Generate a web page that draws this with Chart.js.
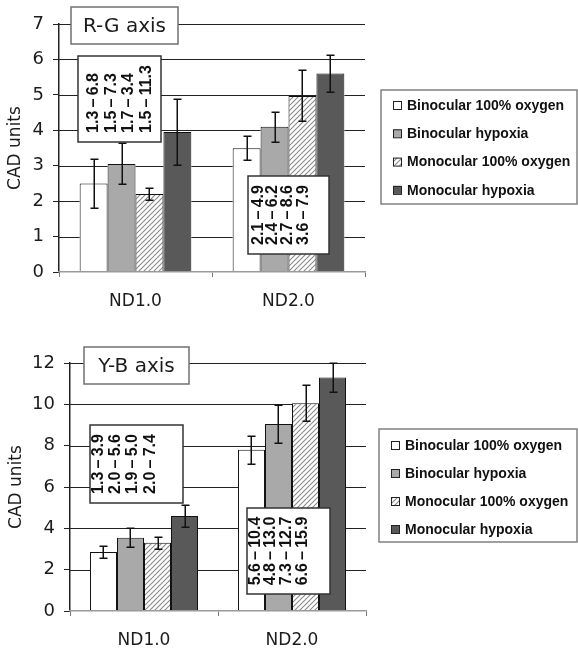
<!DOCTYPE html>
<html>
<head>
<meta charset="utf-8">
<script src="https://cdn.jsdelivr.net/npm/chart.js@4.4.1/dist/chart.umd.min.js"></script>
<style>
  body { margin: 0; background: #fff; }
  canvas { position: absolute; left: 0; }
</style>
</head>
<body>
<canvas id="rgChart" width="578" height="320" style="top:0"></canvas>
<canvas id="ybChart" width="578" height="332" style="top:320px"></canvas>
<script>
const categories = ["ND1.0", "ND2.0"];
const seriesNames = ["Binocular 100% oxygen", "Binocular hypoxia", "Monocular 100% oxygen", "Monocular hypoxia"];

// R-G axis means and error bars (ND1.0, ND2.0)
const rgBinOxy = [2.5, 3.49];
const rgBinHyp = [3.05, 4.1];
const rgMonOxy = [2.2, 4.97];
const rgMonHyp = [3.95, 5.6];
const rgBinOxyErr = [0.68, 0.34];
const rgBinHypErr = [0.58, 0.42];
const rgMonOxyErr = [0.18, 0.72];
const rgMonHypErr = [0.92, 0.52];
const rgTicks = [0, 1, 2, 3, 4, 5, 6, 7];

// Y-B axis
const ybBinOxy = [2.85, 7.8];
const ybBinHyp = [3.55, 9.05];
const ybMonOxy = [3.3, 10.05];
const ybMonHyp = [4.6, 11.3];
const ybBinOxyErr = [0.29, 0.67];
const ybBinHypErr = [0.45, 0.9];
const ybMonOxyErr = [0.3, 0.87];
const ybMonHypErr = [0.53, 0.7];
const ybTicks = [0, 2, 4, 6, 8, 10, 12];

// ranges printed in the boxes
const rgNd1Ranges = ["1.3\u2009–\u20096.8", "1.5\u2009–\u20097.3", "1.7\u2009–\u20093.4", "1.5\u2009–\u200911.3"];
const rgNd2Ranges = ["2.1\u2009–\u20094.9", "2.4\u2009–\u20096.2", "2.7\u2009–\u20098.6", "3.6\u2009–\u20097.9"];
const ybNd1Ranges = ["1.3\u2009–\u20093.9", "2.0\u2009–\u20095.6", "1.9\u2009–\u20095.0", "2.0\u2009–\u20097.4"];
const ybNd2Ranges = ["5.6\u2009–\u200910.4", "4.8\u2009–\u200913.0", "7.3\u2009–\u200912.7", "6.6\u2009–\u200915.9"];

const FONT = "'DejaVu Sans', sans-serif";
const INK = "#1c1c1c";

function makeHatch(ctx) {
  const c = document.createElement("canvas");
  c.width = 5; c.height = 5;
  const g = c.getContext("2d");
  g.fillStyle = "#fff";
  g.fillRect(0, 0, 5, 5);
  g.strokeStyle = "#8a8a8a";
  g.lineWidth = 1.1;
  g.beginPath();
  g.moveTo(0, 5); g.lineTo(5, 0);
  g.moveTo(-1, 1); g.lineTo(1, -1);
  g.moveTo(4, 6); g.lineTo(6, 4);
  g.stroke();
  return ctx.createPattern(c, "repeat");
}

function drawRangeBox(ctx, box, lines) {
  ctx.save();
  ctx.fillStyle = "#fff";
  ctx.fillRect(box.x, box.y, box.w, box.h);
  ctx.strokeStyle = "#333";
  ctx.lineWidth = 1.5;
  ctx.strokeRect(box.x, box.y, box.w, box.h);
  ctx.font = "bold 16px 'Liberation Sans', Arial, sans-serif";
  ctx.fillStyle = "#111";
  const maxLen = Math.max(...lines.map(t => ctx.measureText(t).width));
  const start = box.y + (box.h + maxLen) / 2;
  lines.forEach((t, k) => {
    ctx.save();
    ctx.translate(box.cols[k] + 1, start);
    ctx.rotate(-Math.PI / 2);
    ctx.textAlign = "left";
    ctx.textBaseline = "middle";
    ctx.fillText(t, 0, 0);
    ctx.restore();
  });
  ctx.restore();
}

// value lines (skipping the bars), error bars, then the boxes and legend
function makeDecor(ticks, note) {
  return {
    id: "decor",
    afterDraw(chart) {
      const ctx = chart.ctx, y = chart.scales.y, x = chart.scales.x;
      const bars = [];
      chart.data.datasets.forEach((ds, i) => {
        chart.getDatasetMeta(i).data.forEach(bar => {
          bars.push({ l: bar.x - bar.width / 2, r: bar.x + bar.width / 2, t: Math.min(bar.y, bar.base), b: Math.max(bar.y, bar.base) });
        });
      });

      ctx.save();
      ctx.fillStyle = "#222";
      ticks.forEach(v => {
        if (v === 0) return;
        const py = Math.round(y.getPixelForValue(v));
        const hits = bars.filter(b => b.t < py && b.b > py).sort((p, q) => p.l - q.l);
        let from = x.left;
        hits.forEach(b => {
          if (b.l > from) ctx.fillRect(from, py, b.l - from, 1);
          from = Math.max(from, b.r);
        });
        if (x.right > from) ctx.fillRect(from, py, x.right - from, 1);
      });
      ctx.restore();

      ctx.save();
      ctx.fillStyle = "#111";
      chart.data.datasets.forEach((ds, i) => {
        chart.getDatasetMeta(i).data.forEach((bar, j) => {
          const v = ds.data[j], e = ds.errors[j];
          const top = Math.round(y.getPixelForValue(v + e)), bot = Math.round(y.getPixelForValue(v - e));
          const bx = Math.round(bar.x);
          ctx.fillRect(bx - 0.5, top, 1.5, bot - top);
          ctx.fillRect(bx - 3.5, top - 0.5, 8, 1.5);
          ctx.fillRect(bx - 3.5, bot - 0.5, 8, 1.5);
        });
      });
      ctx.restore();

      const t = note.title;
      ctx.save();
      ctx.fillStyle = "#fff";
      ctx.fillRect(t.x, t.y, t.w, t.h);
      ctx.strokeStyle = "#707070";
      ctx.lineWidth = 1.5;
      ctx.strokeRect(t.x, t.y, t.w, t.h);
      ctx.fillStyle = INK;
      ctx.font = "20px " + FONT;
      ctx.textAlign = "center";
      ctx.textBaseline = "middle";
      ctx.fillText(t.text, t.x + t.w / 2, t.y + t.h / 2 + 1);
      ctx.restore();

      note.ranges.forEach(r => drawRangeBox(ctx, r.box, r.lines));

      const lg = note.legend;
      ctx.save();
      ctx.fillStyle = "#fff";
      ctx.fillRect(lg.x, lg.y, lg.w, lg.h);
      ctx.strokeStyle = "#808080";
      ctx.lineWidth = 1.5;
      ctx.strokeRect(lg.x, lg.y, lg.w, lg.h);
      ctx.font = "bold 14px 'Liberation Sans', Arial, sans-serif";
      ctx.textBaseline = "middle";
      chart.data.datasets.forEach((ds, i) => {
        const yy = lg.y + lg.first + i * lg.gap;
        ctx.fillStyle = ds.backgroundColor;
        ctx.fillRect(lg.x + 12, yy - 4, 8, 8);
        ctx.strokeStyle = "#222";
        ctx.lineWidth = 1;
        ctx.strokeRect(lg.x + 12.5, yy - 3.5, 8, 8);
        ctx.fillStyle = "#111";
        ctx.fillText(ds.label, lg.x + 26, yy + 1);
      });
      ctx.restore();
    }
  };
}

function makeChart(id, series, errors, ticks, layout) {
  const ctx = document.getElementById(id).getContext("2d");
  const hatch = makeHatch(ctx);
  const fills = ["#ffffff", "#a9a9a9", hatch, "#595959"];
  return new Chart(ctx, {
    type: "bar",
    data: {
      labels: categories,
      datasets: series.map((d, i) => ({
        label: seriesNames[i],
        data: d,
        errors: errors[i],
        backgroundColor: fills[i],
        borderColor: "#111",
        borderWidth: 1,
        barPercentage: 1,
        categoryPercentage: 0.73
      }))
    },
    options: {
      responsive: false,
      animation: false,
      layout: { padding: { top: layout.top, right: 578 - layout.right, left: 0, bottom: 0 } },
      scales: {
        x: {
          grid: { offset: true, drawOnChartArea: false, tickLength: 5, color: "#777" },
          border: { color: "#9a9a9a", width: 1.5, z: 1 },
          ticks: { color: INK, font: { family: FONT, size: 17 }, padding: 14 },
          afterFit(s) { s.height = layout.xHeight; }
        },
        y: {
          min: ticks[0],
          max: ticks[ticks.length - 1],
          afterBuildTicks(s) { s.ticks = ticks.map(v => ({ value: v })); },
          ticks: { color: INK, font: { family: FONT, size: 18 }, padding: 9 },
          grid: { drawOnChartArea: false, color: "#222", lineWidth: 1, tickLength: 6 },
          border: { color: "#222", width: 1.5 },
          title: {
            display: true,
            text: "CAD units",
            color: INK,
            font: { family: FONT, size: 17 },
            padding: { top: layout.titlePad, bottom: 0 }
          },
          afterFit(s) { s.width = layout.left; }
        }
      },
      plugins: {
        legend: { display: false },
        tooltip: { enabled: false }
      }
    },
    plugins: [makeDecor(ticks, layout.annotations)]
  });
}

makeChart("rgChart",
  [rgBinOxy, rgBinHyp, rgMonOxy, rgMonHyp],
  [rgBinOxyErr, rgBinHypErr, rgMonOxyErr, rgMonHypErr],
  rgTicks,
  {
    top: 24, right: 365, left: 59, xHeight: 48, titlePad: 5,
    annotations: {
      title: { text: "R-G axis", x: 71, y: 7, w: 107, h: 37 },
      ranges: [
        { lines: rgNd1Ranges, box: { x: 78, y: 56, w: 83, h: 86, cols: [93, 110.5, 128, 145.5] } },
        { lines: rgNd2Ranges, box: { x: 248, y: 176, w: 81, h: 78, cols: [257.5, 272, 287, 303] } }
      ],
      legend: { x: 381, y: 90, w: 196, h: 114, first: 15, gap: 28.3 }
    }
  });

makeChart("ybChart",
  [ybBinOxy, ybBinHyp, ybMonOxy, ybMonHyp],
  [ybBinOxyErr, ybBinHypErr, ybMonOxyErr, ybMonHypErr],
  ybTicks,
  {
    top: 43, right: 366, left: 70, xHeight: 41, titlePad: 6.5,
    annotations: {
      title: { text: "Y-B axis", x: 84, y: 27, w: 105, h: 37 },
      ranges: [
        { lines: ybNd1Ranges, box: { x: 90, y: 105, w: 93, h: 78, cols: [97.5, 115, 132, 149.5] } },
        { lines: ybNd2Ranges, box: { x: 247, y: 188, w: 83, h: 86, cols: [255, 270, 286, 301.5] } }
      ],
      legend: { x: 379, y: 109, w: 198, h: 113, first: 16, gap: 28 }
    }
  });
</script>
</body>
</html>
